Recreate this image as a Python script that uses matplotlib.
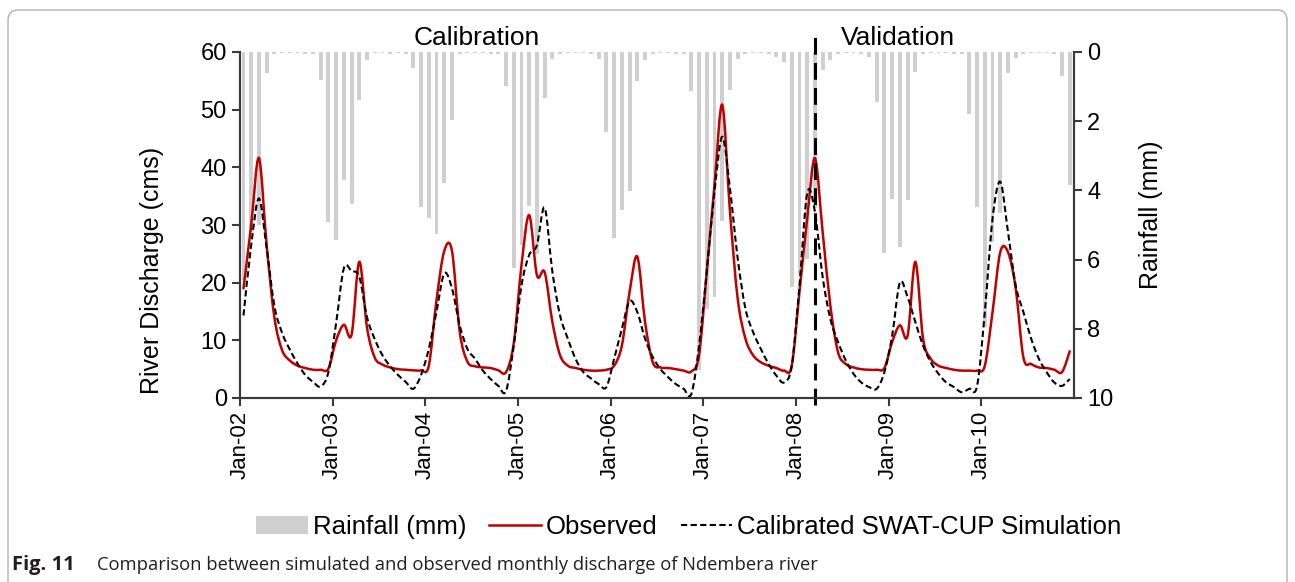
import matplotlib
matplotlib.use("Agg")
import numpy as np
import matplotlib.pyplot as plt
from matplotlib.path import Path
from matplotlib.patches import PathPatch, Patch, FancyBboxPatch
from matplotlib.lines import Line2D
from matplotlib.transforms import IdentityTransform

plt.rcParams['font.family'] = ['Liberation Sans', 'DejaVu Sans']

# monthly series, Jan 2002 - Dec 2010
observed = [
    19.0, 30.0, 41.6, 26.5, 14.0, 8.3, 6.5, 5.6, 5.2, 4.9, 4.9, 5.1,
    10.0, 12.7, 11.0, 23.6, 12.2, 7.0, 5.8, 5.3, 5.0, 4.9, 4.8, 4.8,
    5.6, 17.0, 25.5, 25.5, 11.5, 6.3, 5.5, 5.3, 5.2, 4.8, 4.5, 9.5,
    23.0, 31.7, 21.3, 21.8, 13.2, 7.4, 5.6, 5.2, 4.9, 4.75, 4.75, 4.9,
    5.6, 9.1, 18.4, 24.5, 13.2, 6.2, 5.3, 5.2, 5.0, 4.75, 4.6, 7.5,
    22.0, 37.0, 50.8, 32.3, 17.2, 10.3, 7.4, 6.2, 5.6, 5.2, 4.75, 5.6,
    18.4, 31.1, 41.6, 28.8, 16.0, 7.9, 5.9, 5.3, 5.0, 4.9, 4.9, 5.2,
    9.7, 12.6, 10.8, 23.6, 10.3, 6.8, 5.6, 5.2, 4.9, 4.75, 4.75, 4.75,
    5.6, 14.9, 25.3, 25.3, 19.0, 7.0, 5.9, 5.3, 5.2, 4.9, 4.5, 8.1,
]
simulated = [
    14.3, 26.5, 34.6, 26.0, 16.0, 11.3, 8.4, 6.0, 4.0, 2.8, 2.0, 4.5,
    13.0, 22.5, 22.0, 21.0, 14.0, 10.2, 7.4, 5.5, 4.0, 2.8, 1.6, 4.0,
    8.5, 15.0, 21.6, 19.0, 12.6, 8.5, 6.8, 4.75, 3.3, 2.1, 1.2, 9.1,
    19.5, 24.8, 26.5, 33.0, 21.9, 14.3, 10.3, 6.8, 4.5, 3.4, 2.4, 1.9,
    6.8, 12.0, 16.8, 14.9, 10.3, 7.1, 5.0, 3.6, 2.4, 1.6, 0.7, 9.1,
    22.0, 35.8, 45.3, 36.3, 24.2, 15.5, 11.4, 8.5, 5.9, 3.9, 2.7, 5.6,
    19.5, 35.5, 32.3, 21.0, 13.7, 9.7, 6.5, 4.2, 2.7, 1.9, 1.6, 4.5,
    10.8, 20.0, 17.5, 13.2, 9.1, 6.2, 4.2, 2.7, 1.9, 1.0, 1.6, 2.1,
    14.9, 31.1, 37.5, 28.8, 19.5, 14.9, 10.3, 6.8, 4.5, 2.7, 2.1, 3.3,
]
rainfall = [
    6.6, 5.2, 5.0, 0.6, 0.05, 0.03, 0.04, 0.03, 0.05, 0.06, 0.8, 4.9,
    5.44, 3.7, 4.4, 1.4, 0.23, 0.04, 0.03, 0.05, 0.04, 0.06, 0.45, 4.47,
    4.79, 5.25, 3.8, 1.96, 0.05, 0.04, 0.03, 0.04, 0.05, 0.06, 0.97, 6.25,
    5.58, 4.44, 5.83, 1.32, 0.2, 0.05, 0.04, 0.03, 0.04, 0.06, 0.2, 2.3,
    5.39, 4.56, 4.03, 0.84, 0.22, 0.05, 0.04, 0.03, 0.05, 0.06, 1.12, 9.2,
    7.43, 7.09, 4.89, 1.1, 0.2, 0.05, 0.04, 0.03, 0.06, 0.15, 0.3, 6.8,
    6.45, 5.97, 4.5, 0.52, 0.22, 0.05, 0.04, 0.03, 0.05, 0.15, 1.44, 5.8,
    4.26, 5.63, 4.28, 0.58, 0.05, 0.04, 0.03, 0.04, 0.05, 0.06, 1.8, 4.48,
    7.95, 5.49, 4.64, 0.6, 0.18, 0.05, 0.04, 0.03, 0.04, 0.06, 0.7, 3.84,
]
year_labels = ['Jan-02', 'Jan-03', 'Jan-04', 'Jan-05', 'Jan-06',
               'Jan-07', 'Jan-08', 'Jan-09', 'Jan-10']
split_month = 74  # first validation month (Mar-08)

months = np.arange(len(observed)) + 0.45  # mid-month positions


def smooth_path(x, y):
    # cubic Bezier through every point, like a spreadsheet "smoothed line"
    n = len(x)
    verts = [(x[0], y[0])]
    codes = [Path.MOVETO]
    for i in range(n - 1):
        xp, yp = (x[i - 1], y[i - 1]) if i > 0 else (x[i], y[i])
        xn, yn = (x[i + 2], y[i + 2]) if i + 2 < n else (x[i + 1], y[i + 1])
        c1 = (x[i] + (x[i + 1] - xp) / 6, y[i] + (y[i + 1] - yp) / 6)
        c2 = (x[i + 1] - (xn - x[i]) / 6, y[i + 1] - (yn - y[i]) / 6)
        verts += [c1, c2, (x[i + 1], y[i + 1])]
        codes += [Path.CURVE4] * 3
    return Path(verts, codes)


fig = plt.figure(figsize=(12.95, 5.82), dpi=100)
ax = fig.add_axes([240 / 1295, 1 - 398 / 582, 834 / 1295, 346 / 582])
ax2 = ax.twinx()
ax.set_zorder(ax2.get_zorder() + 1)
ax.patch.set_visible(False)

red = '#c00000'
axis_col = '#3a3a3a'

# rainfall hangs from the top of an inverted secondary axis
ax2.bar(months, rainfall, width=0.5, color='#cfcfcf', linewidth=0)
ax2.set_ylim(10, 0)
ax2.set_yticks(np.arange(0, 11, 2))
ax2.set_ylabel('Rainfall (mm)', fontsize=18)
ax2.yaxis.set_label_coords(1.078, 0.53)

ax.add_patch(PathPatch(smooth_path(months, observed), fill=False,
                       edgecolor=red, lw=1.8, capstyle='round'))
ax.add_patch(PathPatch(smooth_path(months, simulated), fill=False,
                       edgecolor='black', lw=1.5, linestyle=(0, (3, 1.6))))

ax.plot([split_month + 0.45] * 2, [-1.3, 63.8], color='black', lw=2.2,
        linestyle=(0, (5.5, 2.7)), clip_on=False)
ax.text(30.7, 62.4, 'Calibration', fontsize=19, ha='center', va='center')
ax.text(85.2, 62.4, 'Validation', fontsize=19, ha='center', va='center')

ax.set_xlim(0, 108)
ax.set_ylim(0, 60)
ax.set_yticks(np.arange(0, 61, 10))
ax.set_xticks(np.arange(0, 97, 12))
ax.set_xticklabels(year_labels, rotation=90)
ax.set_ylabel('River Discharge (cms)', fontsize=18)
ax.yaxis.set_label_coords(-0.091, 0.37)

for a in (ax, ax2):
    a.spines['top'].set_visible(False)
    for s in ('left', 'right', 'bottom'):
        a.spines[s].set_color(axis_col)
        a.spines[s].set_linewidth(1.5)
    a.tick_params(labelsize=17, width=1.5, length=6, color=axis_col)
ax.tick_params(axis='x', labelsize=16)

handles = [Patch(facecolor='#cfcfcf', edgecolor='none'),
           Line2D([], [], color=red, lw=1.8),
           Line2D([], [], color='black', lw=1.5, linestyle=(0, (3, 1.6)))]
fig.legend(handles, ['Rainfall (mm)', 'Observed', 'Calibrated SWAT-CUP Simulation'],
           loc='center', bbox_to_anchor=(0.532, 1 - 527 / 582), ncol=3,
           frameon=False, fontsize=18.5, handlelength=2.0, handletextpad=0.2,
           columnspacing=0.9)

fig.text(12 / 1295, 1 - 565 / 582, 'Fig. 11', fontsize=14.5, fontweight='bold',
         family=['Open Sans'], va='center', color='#231f20')
fig.text(97 / 1295, 1 - 565 / 582,
         'Comparison between simulated and observed monthly discharge of Ndembera river',
         fontsize=13.2, family=['Open Sans'], va='center', color='#231f20')

fig.add_artist(FancyBboxPatch((8, -30), 1279, 602, boxstyle='round,pad=0,rounding_size=10',
                              transform=IdentityTransform(), fill=False,
                              edgecolor='#b0b0b0', lw=1))

fig.savefig('out.png', dpi=100)
